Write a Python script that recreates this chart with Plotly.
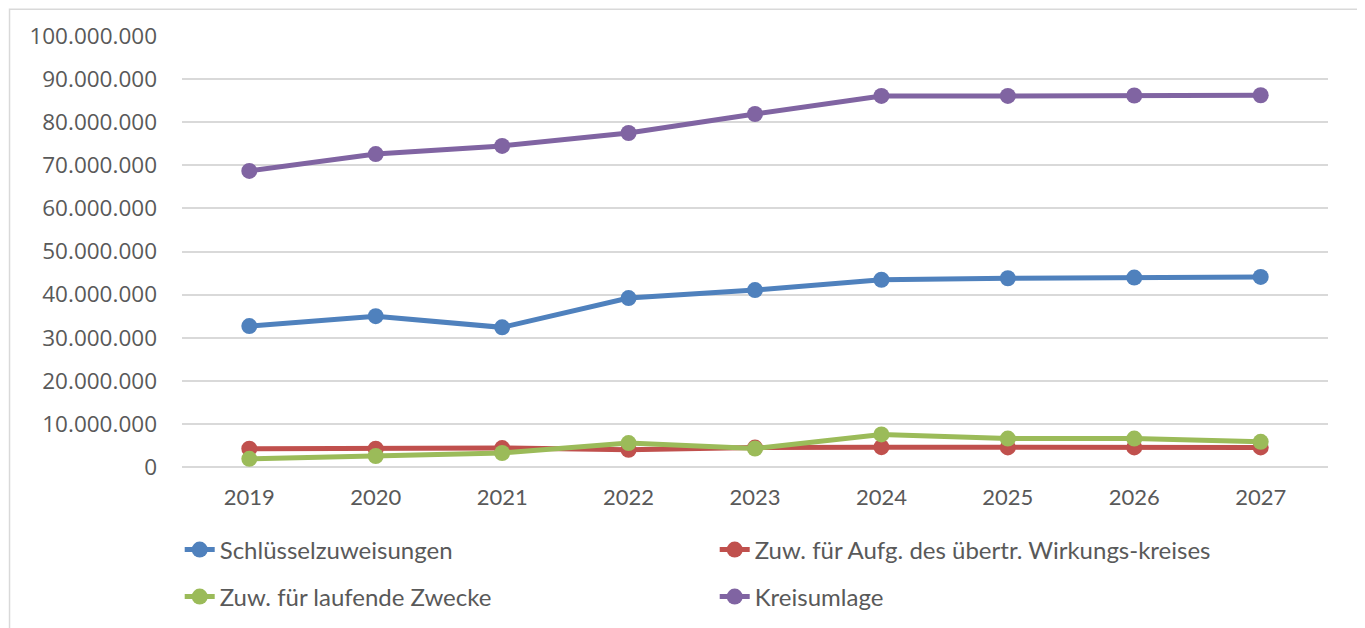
import plotly.graph_objects as go

years = ["2019", "2020", "2021", "2022", "2023", "2024", "2025", "2026", "2027"]

schluessel = [32700000, 35000000, 32400000, 39200000, 41050000, 43450000, 43800000, 43950000, 44100000]
uebertr = [4250000, 4250000, 4400000, 4000000, 4500000, 4600000, 4550000, 4550000, 4550000]
laufend = [1900000, 2550000, 3250000, 5550000, 4300000, 7550000, 6600000, 6600000, 5850000]
kreisumlage = [68700000, 72600000, 74500000, 77500000, 81900000, 86100000, 86100000, 86200000, 86250000]

names = ["Schlüsselzuweisungen",
         "Zuw. für Aufg. des übertr. Wirkungs-kreises",
         "Zuw. für laufende Zwecke",
         "Kreisumlage"]
colors = ["#4f81bd", "#c0504d", "#9bbb59", "#8064a2"]
series = [schluessel, uebertr, laufend, kreisumlage]
legends = ["legend", "legend", "legend2", "legend2"]

fig = go.Figure()
for name, vals, col, lg in zip(names, series, colors, legends):
    fig.add_trace(go.Scatter(
        x=years, y=vals, name=name, mode="lines+markers",
        line=dict(color=col, width=5),
        marker=dict(color=col, size=16),
        legend=lg,
    ))

legend_style = dict(
    orientation="h", xanchor="left", yanchor="middle", x=-0.002,
    entrywidth=490, entrywidthmode="pixels",
    font=dict(family="Lato, sans-serif", size=24, color="#595959"),
    bgcolor="rgba(0,0,0,0)", traceorder="normal",
)

# page body has an 8px margin, so the margins are shifted by 8px
fig.update_layout(
    width=1365, height=628,
    margin=dict(l=174, r=45, t=28, b=169),
    paper_bgcolor="white", plot_bgcolor="white",
    separators=",.",
    font=dict(family="Lato, sans-serif", size=22, color="#595959"),
    legend=dict(legend_style, y=-0.1926),
    legend2=dict(legend_style, y=-0.3016),
    xaxis=dict(showgrid=False, showline=False, ticks="", ticklabelstandoff=15,
               tickfont=dict(family="Lato, sans-serif", size=22, color="#595959")),
    yaxis=dict(range=[0, 100000000], dtick=10000000, tickformat=",d",
               gridcolor="#d9d9d9", gridwidth=1.5, zeroline=True,
               zerolinecolor="#d9d9d9", zerolinewidth=1.5, showline=False,
               ticklabelstandoff=24,
               tickfont=dict(family="'Open Sans', sans-serif", size=22.5, color="#595959")),
    shapes=[dict(type="rect", xref="paper", yref="paper",
                 x0=-0.1505, x1=1.0288, y0=-0.40, y1=1.062,
                 line=dict(color="#d9d9d9", width=1.5), layer="below")],
)

fig.write_html("out.html")
